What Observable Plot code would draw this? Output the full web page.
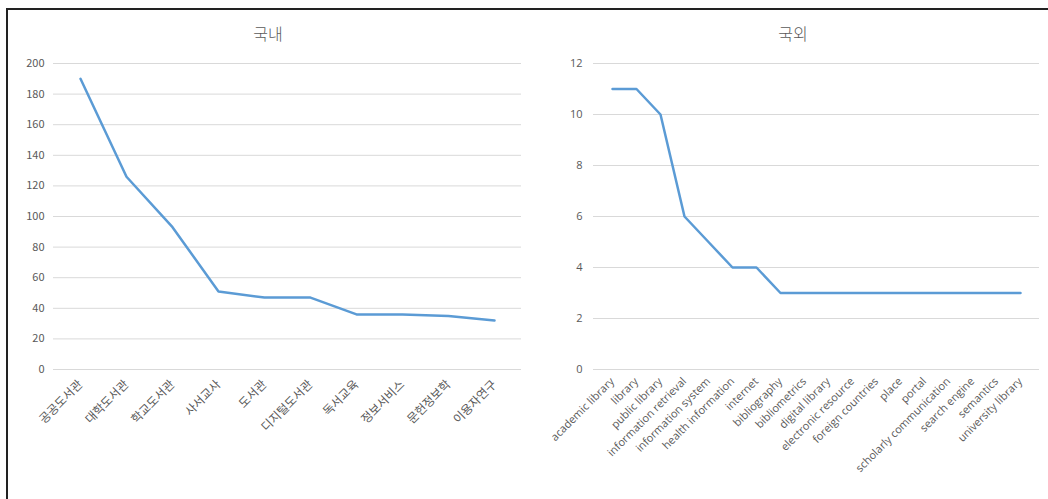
<!DOCTYPE html>
<html><head><meta charset="utf-8">
<script src="https://cdn.jsdelivr.net/npm/d3@7"></script>
<script src="https://cdn.jsdelivr.net/npm/@observablehq/plot@0.6"></script>
<style>
body{margin:0;background:#fff;}
#wrap{position:relative;width:1048px;height:499px;overflow:hidden;background:#fff;}
.frame{position:absolute;left:6px;top:8px;width:1100px;height:600px;border-left:2px solid #222;border-top:2px solid #222;z-index:5;pointer-events:none;}
.title{position:absolute;top:24px;font-size:16px;line-height:18px;font-family:"Noto Sans CJK KR","Noto Sans",sans-serif;font-weight:300;color:#595959;transform:translateX(-50%);z-index:4;}
.chart{position:absolute;top:0;}
</style></head><body>
<div id="wrap"><div class="frame"></div>
<div class="title" style="left:268px">국내</div>
<div class="title" style="left:793px">국외</div>
<div id="c1" class="chart" style="left:0px"></div>
<div id="c2" class="chart" style="left:530px"></div>
</div>
<script>
const domesticCategories = ["공공도서관","대학도서관","학교도서관","사서교사","도서관","디지털도서관","독서교육","정보서비스","문헌정보학","이용자연구"];
const domesticValues = [190,126,93,51,47,47,36,36,35,32];
const domesticTicks = [0,20,40,60,80,100,120,140,160,180,200];

const foreignCategories = ["academic library","library","public library","information retrieval","information system","health information","internet","bibliography","bibliometrics","digital library","electronic resource","foreign countries","place","portal","scholarly communication","search engine","semantics","university library"];
const foreignValues = [11,11,10,6,5,4,4,3,3,3,3,3,3,3,3,3,3,3];
const foreignTicks = [0,2,4,6,8,10,12];

function make(cats, vals, ticks, o) {
  const data = cats.map((c, i) => ({cat: c, val: vals[i]}));
  return Plot.plot({
    width: o.width, height: 499,
    marginLeft: o.ml, marginRight: o.mr, marginTop: 63, marginBottom: 130,
    style: {background: "transparent", color: "#595959", fontFamily: o.font, fontSize: "11px"},
    x: {type: "point", domain: cats, padding: 0.5, label: null},
    y: {domain: [ticks[0], ticks[ticks.length-1]], label: null},
    marks: [
      Plot.gridY(ticks, {stroke: "#d9d9d9", strokeOpacity: 1, strokeWidth: 1}),
      Plot.axisY(ticks, {tickSize: 0, tickPadding: o.tp, fontSize: 11, fill: "#595959", label: null}),
      Plot.axisX({tickRotate: -45, tickSize: 0, tickPadding: o.xtp, fontSize: o.xfs, fill: "#595959", label: null}),
      Plot.lineY(data, {x: "cat", y: "val", stroke: "#5b9bd5", strokeWidth: 2.5, strokeLinejoin: "round"})
    ]
  });
}

document.getElementById("c1").append(make(domesticCategories, domesticValues, domesticTicks,
  {width: 530, ml: 53, mr: 9, tp: 9, xtp: 13, xfs: 12, font: '"Noto Sans CJK KR", sans-serif'}));
document.getElementById("c2").append(make(foreignCategories, foreignValues, foreignTicks,
  {width: 518, ml: 63, mr: 9, tp: 11, xtp: 10, xfs: 11, font: '"Open Sans", "Noto Sans CJK KR", sans-serif'}));
</script>
</body></html>
